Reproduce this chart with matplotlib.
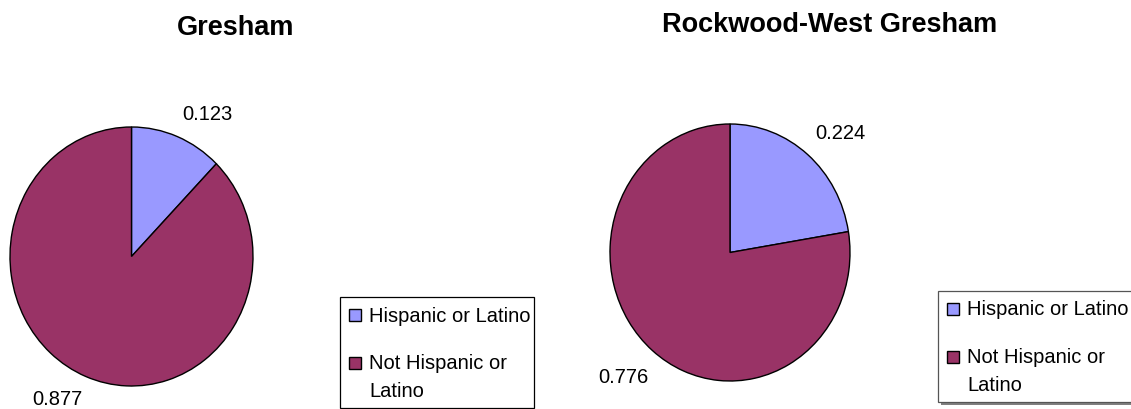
import matplotlib
matplotlib.use("Agg")
import matplotlib.pyplot as plt
from matplotlib.patches import Rectangle
from matplotlib.transforms import ScaledTranslation

# datos
regiones = ["Gresham", "Rockwood-West Gresham"]
categorias = ["Hispanic or Latino", "Not Hispanic or\nLatino"]
gresham = [0.123, 0.877]
rockwood = [0.224, 0.776]
colores = ["#9999FF", "#993366"]

W, H = 1131, 410
plt.rcParams["font.family"] = ["Liberation Sans", "DejaVu Sans"]

fig = plt.figure(figsize=(W / 100, H / 100), dpi=100)


def px(x, y):
    # pixeles (desde arriba a la izquierda) -> fraccion de figura
    return x / W, 1 - y / H


def caja(x0, y0, x1, y1):
    left, top = px(x0, y0)
    right, bottom = px(x1, y1)
    return [left, bottom, right - left, top - bottom]


def pastel(rect, valores, titulo, tx, ty, ajustes):
    ax = fig.add_axes(rect)
    _, textos = ax.pie(valores, colors=colores, startangle=90, counterclock=False,
                       labels=[f"{v:.3f}" for v in valores], labeldistance=1.2,
                       wedgeprops={"edgecolor": "black", "linewidth": 1.0},
                       textprops={"fontsize": 14.5})
    ax.set_aspect("auto")
    ax.set_xlim(-1, 1)
    ax.set_ylim(-1, 1)
    # pequeño corrimiento de etiquetas (en pixeles) para parecerse a Excel
    for t, (dx, dy) in zip(textos, ajustes):
        t.set_transform(t.get_transform() +
                        ScaledTranslation(dx / 100, -dy / 100, fig.dpi_scale_trans))
    fig.text(*px(tx, ty), titulo, ha="center", va="baseline",
             fontsize=19.5, fontweight="bold")


def leyenda(x0, y0, sombra=False):
    ancho, alto = 194, 111
    if sombra:
        fig.add_artist(Rectangle(px(x0 + 3, y0 + alto + 3), ancho / W, alto / H,
                                 transform=fig.transFigure, facecolor="#808080",
                                 edgecolor="none"))
    borde = "#555555" if sombra else "black"
    fig.add_artist(Rectangle(px(x0, y0 + alto), ancho / W, alto / H,
                             transform=fig.transFigure, facecolor="white",
                             edgecolor=borde, linewidth=0.9))
    bases = [23.5, 71.5]
    for color, etiqueta, base in zip(colores, categorias, bases):
        fig.add_artist(Rectangle(px(x0 + 9, y0 + base), 12 / W, 12 / H,
                                 transform=fig.transFigure, facecolor=color,
                                 edgecolor="black", linewidth=1.0))
        lineas = etiqueta.split("\n")
        for i, linea in enumerate(lineas):
            fig.text(*px(x0 + 29, y0 + base + i * 28), linea, ha="left",
                     va="baseline", fontsize=14.5)


pastel(caja(10, 128, 253, 387), gresham, regiones[0], 236, 35,
       [(-4, 1), (6, -2)])
pastel(caja(610, 125, 850, 382), rockwood, regiones[1], 830, 32,
       [(-8, -2), (12, 6)])

leyenda(340, 298)
leyenda(938, 292, sombra=True)

fig.savefig("out.png", dpi=100)
